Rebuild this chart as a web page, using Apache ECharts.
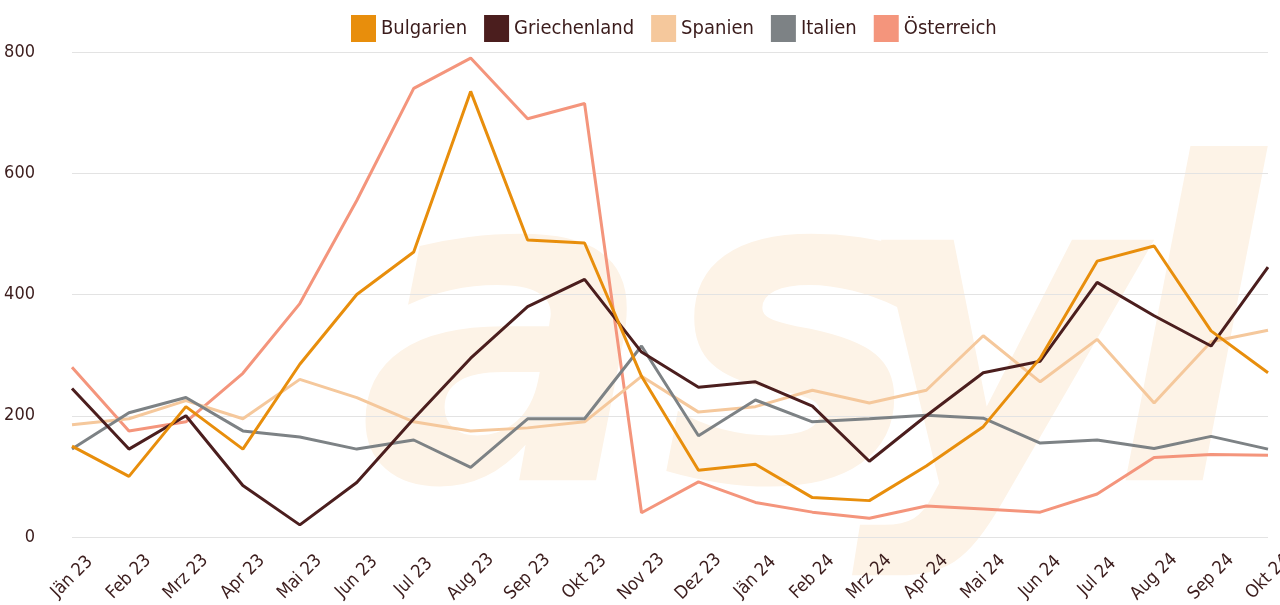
<!DOCTYPE html>
<html>
<head>
<meta charset="utf-8">
<script src="https://cdn.jsdelivr.net/npm/echarts@6/dist/echarts.min.js"></script>
<style>
  html, body { margin: 0; padding: 0; background: #fff; }
  #chart { width: 1280px; height: 605px; }
</style>
</head>
<body>
<div id="chart"></div>
<script>
const months = ["Jän 23", "Feb 23", "Mrz 23", "Apr 23", "Mai 23", "Jun 23", "Jul 23", "Aug 23", "Sep 23", "Okt 23", "Nov 23", "Dez 23",
  "Jän 24", "Feb 24", "Mrz 24", "Apr 24", "Mai 24", "Jun 24", "Jul 24", "Aug 24", "Sep 24", "Okt 24"];

const bulgarien    = [150, 100, 215, 145, 285, 400, 470, 735, 490, 485, 265, 110, 120, 65, 60, 117, 182, 295, 455, 480, 340, 271];
const griechenland = [245, 145, 200, 85, 20, 90, 195, 295, 380, 425, 305, 247, 256, 216, 125, 200, 271, 290, 420, 365, 315, 445];
const spanien      = [185, 195, 225, 195, 260, 230, 190, 175, 180, 190, 265, 206, 215, 242, 221, 242, 332, 256, 326, 221, 322, 341];
const italien      = [145, 205, 230, 175, 165, 145, 160, 115, 195, 195, 315, 167, 226, 190, 195, 201, 196, 155, 160, 146, 166, 145];
const oesterreich  = [280, 175, 190, 270, 385, 555, 740, 790, 690, 715, 40, 91, 57, 41, 31, 51, 46, 41, 71, 131, 136, 135];

const yTicks = { min: 0, max: 800, interval: 200 };

const textColor = "#3b1c1c";
const font = "'DejaVu Sans Condensed', 'Liberation Sans', sans-serif";

const chart = echarts.init(document.getElementById("chart"));

function line(name, data, color, z) {
  return {
    name: name,
    type: "line",
    data: data,
    showSymbol: false,
    symbol: "none",
    z: z,
    lineStyle: { color: color, width: 3 },
    itemStyle: { color: color },
  };
}

// Wasserzeichen "asyl" im Hintergrund
const wm = { fill: "#fdf3e7", font: "italic bold 440px 'DejaVu Sans', sans-serif" };
const wmLetters = [["a", 358], ["s", 662], ["y", 852], ["l", 1112]];

chart.setOption({
  animation: false,
  textStyle: { fontFamily: font },
  graphic: wmLetters.map(([ch, x]) => ({
    type: "text",
    z: -10,
    silent: true,
    x: x,
    y: 146,
    style: { x: 0, y: 0, text: ch, font: wm.font, fill: wm.fill, textVerticalAlign: "top" },
  })),
  legend: {
    top: 10,
    left: 346,
    itemWidth: 25,
    itemHeight: 27,
    itemGap: 17,
    icon: "rect",
    textStyle: { color: textColor, fontSize: 20, fontFamily: font },
  },
  grid: { left: 72, right: 12, top: 52, bottom: 68, outerBoundsMode: "none" },
  xAxis: {
    type: "category",
    data: months,
    boundaryGap: false,
    axisLine: { show: false },
    axisTick: { show: false },
    axisLabel: {
      rotate: 45,
      margin: 40,
      align: "center",
      verticalAlign: "middle",
      color: textColor,
      fontSize: 18,
      fontFamily: font,
      interval: 0,
    },
  },
  yAxis: {
    type: "value",
    min: yTicks.min,
    max: yTicks.max,
    interval: yTicks.interval,
    axisLine: { show: false },
    axisTick: { show: false },
    axisLabel: { margin: 37, color: textColor, fontSize: 18, fontFamily: font },
    splitLine: { lineStyle: { color: "#e3e3e3", width: 1 } },
  },
  series: [
    line("Bulgarien", bulgarien, "#e88e0c", 6),
    line("Griechenland", griechenland, "#4b1e1e", 5),
    line("Spanien", spanien, "#f5c89c", 3),
    line("Italien", italien, "#7d8285", 4),
    line("Österreich", oesterreich, "#f4957c", 2),
  ],
});

window.addEventListener("resize", () => {
  chart.resize();
});
</script>
</body>
</html>
